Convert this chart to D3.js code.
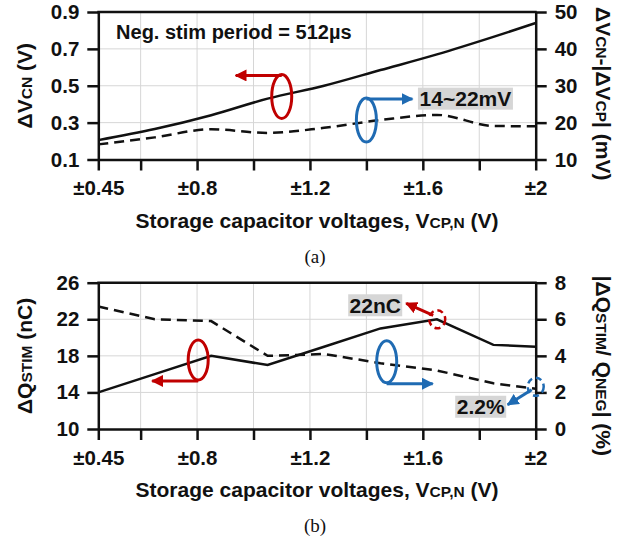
<!DOCTYPE html>
<html>
<head>
<meta charset="utf-8">
<script src="https://cdn.jsdelivr.net/npm/d3@7"></script>
<style>
  body { margin: 0; background: #fff; }
  text { font-family: "Liberation Sans", Arial, sans-serif; font-weight: bold; fill: #111; }
  .cap { font-family: "Liberation Serif", "Times New Roman", serif; font-weight: normal; }
</style>
</head>
<body>
<svg id="chart" width="641" height="537"></svg>
<script>
// x axis: storage capacitor voltage (±V)
const xTicks = [0.45, 0.6, 0.8, 1.0, 1.2, 1.4, 1.6, 1.8, 2.0];
const xTickLabels = ["±0.45", "", "±0.8", "", "±1.2", "", "±1.6", "", "±2"];
const vStorage = [0.45, 0.65, 0.85, 1.05, 1.25, 1.45, 1.65, 1.85, 2.0];

// (a) ΔVCN (V) and ΔVCN-|ΔVCP| (mV)
const dVcn = [0.205, 0.265, 0.34, 0.43, 0.50, 0.585, 0.67, 0.765, 0.84];
const dVmismatch = [14.1, 16.0, 18.2, 17.2, 18.6, 20.7, 22.1, 19.1, 19.0];
const aLeftTicks = [0.1, 0.3, 0.5, 0.7, 0.9];
const aRightTicks = [10, 20, 30, 40, 50];

// (b) ΔQSTIM (nC) and |ΔQSTIM/QNEG| (%)
const dQstim = [14.0, 16.0, 18.0, 17.0, 19.0, 21.0, 22.0, 19.2, 19.0];
const qRatio = [6.7, 6.0, 5.9, 4.0, 4.1, 3.6, 3.2, 2.5, 2.2];
const bLeftTicks = [10, 14, 18, 22, 26];
const bRightTicks = [0, 2, 4, 6, 8];

const RED = "#c00000";
const BLUE = "#1f6bb3";
const GRID = "#d6d6d6";

const svg = d3.select("#chart");

// arrow heads
const defs = svg.append("defs");
[["arrRed", RED], ["arrBlue", BLUE]].forEach(([id, col]) => {
    defs.append("marker")
        .attr("id", id)
        .attr("markerUnits", "userSpaceOnUse")
        .attr("viewBox", "0 0 10 10")
        .attr("refX", 9).attr("refY", 5)
        .attr("markerWidth", 12).attr("markerHeight", 12)
        .attr("orient", "auto")
      .append("path")
        .attr("d", "M0,0 L10,5 L0,10 z")
        .attr("fill", col);
});

// writes text made of [string, small?] parts
function richText(g, parts, big, small) {
    const t = g.append("text").attr("font-size", big);
    parts.forEach(([s, sm]) => t.append("tspan").attr("font-size", sm ? small : big).text(s));
    return t;
}

function drawPanel(p) {
    const left = 98.3, right = 535.7;
    const x = d3.scaleLinear().domain([0.45, 2.0]).range([left, right]);
    const yL = d3.scaleLinear().domain(d3.extent(p.leftTicks)).range([p.bottom, p.top]);
    const yR = d3.scaleLinear().domain(d3.extent(p.rightTicks)).range([p.bottom, p.top]);

    const g = svg.append("g");

    // grid
    g.append("g").selectAll("line")
        .data(xTicks.slice(1, -1))
        .join("line")
        .attr("x1", d => x(d)).attr("x2", d => x(d))
        .attr("y1", p.top).attr("y2", p.bottom)
        .attr("stroke", GRID).attr("stroke-width", 1);
    g.append("g").selectAll("line")
        .data(p.leftTicks.slice(1, -1))
        .join("line")
        .attr("x1", left).attr("x2", right)
        .attr("y1", d => yL(d)).attr("y2", d => yL(d))
        .attr("stroke", GRID).attr("stroke-width", 1);

    // axes
    const ax = (sel) => {
        sel.select(".domain").attr("stroke", "#111").attr("stroke-width", 2.5);
        sel.selectAll(".tick line").attr("stroke", "#111").attr("stroke-width", 2.5);
        sel.selectAll(".tick text").attr("font-size", 20.5).attr("fill", "#111")
            .attr("font-family", "Liberation Sans, Arial, sans-serif").attr("font-weight", "bold");
    };
    g.append("g").attr("transform", `translate(0,${p.bottom})`)
        .call(d3.axisBottom(x).tickValues(xTicks).tickFormat((d, i) => xTickLabels[i])
            .tickSize(11).tickSizeOuter(0).tickPadding(10))
        .call(ax);
    g.append("g").attr("transform", `translate(${left},0)`)
        .call(d3.axisLeft(yL).tickValues(p.leftTicks).tickFormat(p.leftFmt)
            .tickSize(11).tickSizeOuter(0).tickPadding(8))
        .call(ax);
    g.append("g").attr("transform", `translate(${right},0)`)
        .call(d3.axisRight(yR).tickValues(p.rightTicks).tickFormat(d3.format("d"))
            .tickSize(11).tickSizeOuter(0).tickPadding(8))
        .call(ax);
    g.append("line")
        .attr("x1", left - 1).attr("x2", right + 1)
        .attr("y1", p.top).attr("y2", p.top)
        .attr("stroke", "#111").attr("stroke-width", 2.5);

    // series
    const solid = d3.line().curve(p.curve).x((d, i) => x(vStorage[i])).y(d => yL(d));
    const dashed = d3.line().curve(p.curve).x((d, i) => x(vStorage[i])).y(d => yR(d));
    g.append("path").datum(p.leftSeries)
        .attr("d", solid).attr("fill", "none")
        .attr("stroke", "#111").attr("stroke-width", 2.5);
    g.append("path").datum(p.rightSeries)
        .attr("d", dashed).attr("fill", "none")
        .attr("stroke", "#111").attr("stroke-width", 2.5)
        .attr("stroke-dasharray", "10,6");

    // axis titles
    richText(g, [["Storage capacitor voltages, V"], ["CP,N", true], [" (V)"]], 21, 15.5)
        .attr("text-anchor", "middle")
        .attr("x", (left + right) / 2).attr("y", p.bottom + 68);
    richText(g, p.leftTitle, 21, 15.5)
        .attr("text-anchor", "middle")
        .attr("transform", `translate(32,${(p.top + p.bottom) / 2}) rotate(-90)`);
    richText(g, p.rightTitle, 21, 15.5)
        .attr("text-anchor", "middle")
        .attr("transform", `translate(596,${(p.top + p.bottom) / 2 + p.rightShift}) rotate(90)`);

    // caption
    g.append("text").attr("class", "cap")
        .attr("font-size", 19).attr("text-anchor", "middle")
        .attr("x", (left + right) / 2 - 2).attr("y", p.bottom + 103)
        .text(p.caption);

    p.annotate(g, x, yL, yR);
}

// ellipse with an arrow starting at its top or bottom
function lensArrow(g, cx, cy, ry, dir, atTop, col, marker) {
    g.append("ellipse")
        .attr("cx", cx).attr("cy", cy).attr("rx", 10).attr("ry", ry)
        .attr("fill", "none").attr("stroke", col).attr("stroke-width", 3);
    const ay = atTop ? cy - ry + 1 : cy + ry + 1;
    g.append("line")
        .attr("x1", cx).attr("y1", ay)
        .attr("x2", cx + dir * 46).attr("y2", ay)
        .attr("stroke", col).attr("stroke-width", 3)
        .attr("marker-end", `url(#${marker})`);
}

function grayLabel(g, cx, cy, w, txt) {
    g.append("rect")
        .attr("x", cx - w / 2).attr("y", cy - 11).attr("width", w).attr("height", 22)
        .attr("fill", "#d6d6d6");
    g.append("text").attr("font-size", 21).attr("text-anchor", "middle")
        .attr("x", cx).attr("y", cy + 7.5).text(txt);
}

drawPanel({
    top: 12, bottom: 159.5,
    leftTicks: aLeftTicks, rightTicks: aRightTicks,
    leftFmt: d3.format(".1f"),
    leftSeries: dVcn, rightSeries: dVmismatch,
    curve: d3.curveMonotoneX,
    leftTitle: [["ΔV"], ["CN", true], [" (V)"]],
    rightTitle: [["ΔV"], ["CN", true], ["-|ΔV"], ["CP", true], ["| (mV)"]],
    rightShift: 8,
    caption: "(a)",
    annotate: (g, x, yL, yR) => {
        g.append("text").attr("font-size", 20)
            .attr("x", x(0.513)).attr("y", yL(0.792) + 7)
            .text("Neg. stim period = 512µs");
        lensArrow(g, x(1.10), yL(0.442), 22, -1, true, RED, "arrRed");
        lensArrow(g, x(1.40), yR(20.7), 22, 1, true, BLUE, "arrBlue");
        grayLabel(g, x(1.751), yR(26.5), 95, "14~22mV");
    }
});

drawPanel({
    top: 282.7, bottom: 429,
    leftTicks: bLeftTicks, rightTicks: bRightTicks,
    leftFmt: d3.format("d"),
    leftSeries: dQstim, rightSeries: qRatio,
    curve: d3.curveLinear,
    leftTitle: [["ΔQ"], ["STIM", true], [" (nC)"]],
    rightTitle: [["|ΔQ"], ["STIM", true], ["/ Q"], ["NEG", true], ["| (%)"]],
    rightShift: 10,
    caption: "(b)",
    annotate: (g, x, yL, yR) => {
        lensArrow(g, x(0.804), yL(17.55), 20, -1, false, RED, "arrRed");
        lensArrow(g, x(1.472), yR(3.68), 21, 1, false, BLUE, "arrBlue");

        // 22nC peak marker
        const px = x(1.651), py = yL(22.0);
        g.append("ellipse").attr("cx", px).attr("cy", py).attr("rx", 8).attr("ry", 9)
            .attr("fill", "none").attr("stroke", RED).attr("stroke-width", 2.5)
            .attr("stroke-dasharray", "6,4");
        g.append("line")
            .attr("x1", px - 4).attr("y1", py - 4).attr("x2", px - 31).attr("y2", py - 16)
            .attr("stroke", RED).attr("stroke-width", 3).attr("marker-end", "url(#arrRed)");
        grayLabel(g, px - 62, py - 14, 54, "22nC");

        // 2.2% end marker
        const qx = x(2.0), qy = yR(2.31);
        g.append("ellipse").attr("cx", qx).attr("cy", qy).attr("rx", 8).attr("ry", 9)
            .attr("fill", "none").attr("stroke", BLUE).attr("stroke-width", 2.5)
            .attr("stroke-dasharray", "6,4");
        g.append("line")
            .attr("x1", qx - 4).attr("y1", qy + 3).attr("x2", qx - 28).attr("y2", qy + 18)
            .attr("stroke", BLUE).attr("stroke-width", 3).attr("marker-end", "url(#arrBlue)");
        grayLabel(g, qx - 55, qy + 20, 51, "2.2%");
    }
});
</script>
</body>
</html>
